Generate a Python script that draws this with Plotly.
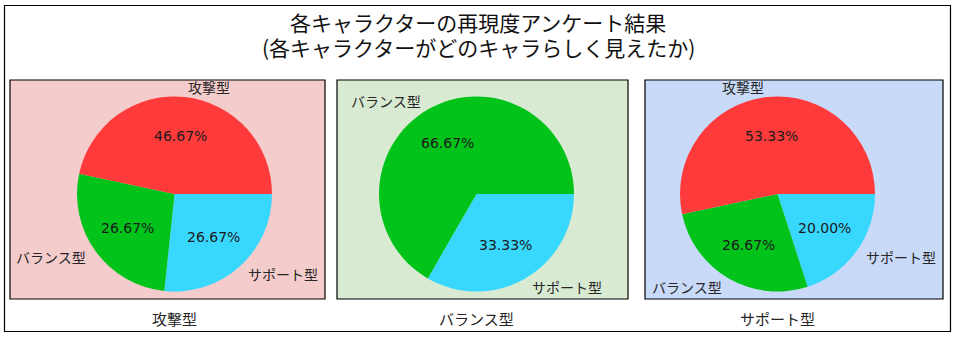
import math
import plotly.graph_objects as go

# Survey results: how each character was perceived (vote counts per type)
panel_titles = ["攻撃型", "バランス型", "サポート型"]
type_labels = ["攻撃型", "バランス型", "サポート型"]
votes_attack = [7, 4, 4]
votes_balance = [0, 10, 5]
votes_support = [8, 4, 3]
slice_colors = ["#ff3a3a", "#02c31a", "#38d8fe"]
panel_colors = ["#f4cccc", "#d9ead3", "#c9daf8"]
title_lines = ["各キャラクターの再現度アンケート結果",
               "(各キャラクターがどのキャラらしく見えたか)"]

W, H = 956, 337
JP_FONT = "Noto Sans CJK JP, Noto Sans, sans-serif"
NUM_FONT = "DejaVu Sans, sans-serif"

# layout geometry in pixels (from top-left)
panel_boxes = [(10, 80, 325, 299), (337, 80, 628, 299), (645, 80, 943, 299)]
pie_centers = [(174.5, 194.0), (476.5, 194.0), (777.5, 194.0)]
radius = 97.5


def px(x):
    return x / W


def py(y):
    return (H - y) / H


fig = go.Figure()
shapes = []
annotations = []

# outer frame
shapes.append(dict(type="rect", xref="paper", yref="paper",
                   x0=px(4.5), x1=px(950.5), y0=py(331.5), y1=py(5.5),
                   line=dict(color="black", width=1.2), fillcolor="rgba(0,0,0,0)",
                   layer="below"))

all_votes = [votes_attack, votes_balance, votes_support]
for i, votes in enumerate(all_votes):
    x0, y0, x1, y1 = panel_boxes[i]
    shapes.append(dict(type="rect", xref="paper", yref="paper",
                       x0=px(x0), x1=px(x1), y0=py(y1), y1=py(y0),
                       line=dict(color="black", width=1.2),
                       fillcolor=panel_colors[i], layer="below"))

    labels = [l for l, v in zip(type_labels, votes) if v > 0]
    vals = [v for v in votes if v > 0]
    cols = [c for c, v in zip(slice_colors, votes) if v > 0]
    cx, cy = pie_centers[i]

    # slices run counterclockwise from 3 o'clock; plotly's clockwise mode
    # starts exactly at the rotation angle, so feed the slices in reverse
    fig.add_trace(go.Pie(
        labels=labels[::-1], values=vals[::-1], sort=False,
        direction="clockwise", rotation=90,
        marker=dict(colors=cols[::-1], line=dict(width=0)),
        textinfo="none", hoverinfo="label+percent", showlegend=False,
        domain=dict(x=[px(cx - radius), px(cx + radius)],
                    y=[py(cy + radius), py(cy - radius)]),
    ))

    # slice labels outside the pie and percentages inside
    total = sum(vals)
    cum = 0.0
    for lab, v in zip(labels, vals):
        mid = 2 * math.pi * (cum + v / 2) / total
        cum += v
        c, s = math.cos(mid), math.sin(mid)
        lx, ly = cx + 1.1 * radius * c, cy - 1.1 * radius * s
        annotations.append(dict(
            x=px(lx), y=py(ly), xref="paper", yref="paper", text=lab,
            showarrow=False, xanchor="left" if c > 0 else "right", yanchor="middle",
            font=dict(family=JP_FONT, size=14, color="#262626")))
        tx, ty = cx + 0.6 * radius * c, cy - 0.6 * radius * s
        annotations.append(dict(
            x=px(tx), y=py(ty), xref="paper", yref="paper",
            text=f"{100 * v / total:.2f}%", showarrow=False,
            xanchor="center", yanchor="middle",
            font=dict(family=NUM_FONT, size=14, color="#1a1a1a")))

    # panel caption under each box
    annotations.append(dict(
        x=px(cx), y=py(318.5), xref="paper", yref="paper", text=panel_titles[i],
        showarrow=False, xanchor="center", yanchor="middle",
        font=dict(family=JP_FONT, size=15, color="#262626")))

for line, yc in zip(title_lines, (22.0, 47.0)):
    annotations.append(dict(
        x=0.5, y=py(yc), xref="paper", yref="paper", text=line,
        showarrow=False, xanchor="center", yanchor="middle", borderpad=0,
        font=dict(family=JP_FONT, size=21, color="#111111")))

fig.update_layout(
    width=W, height=H,
    margin=dict(l=0, r=0, t=0, b=0),
    paper_bgcolor="white", plot_bgcolor="white",
    shapes=shapes, annotations=annotations,
)

fig.write_html("out.html")
